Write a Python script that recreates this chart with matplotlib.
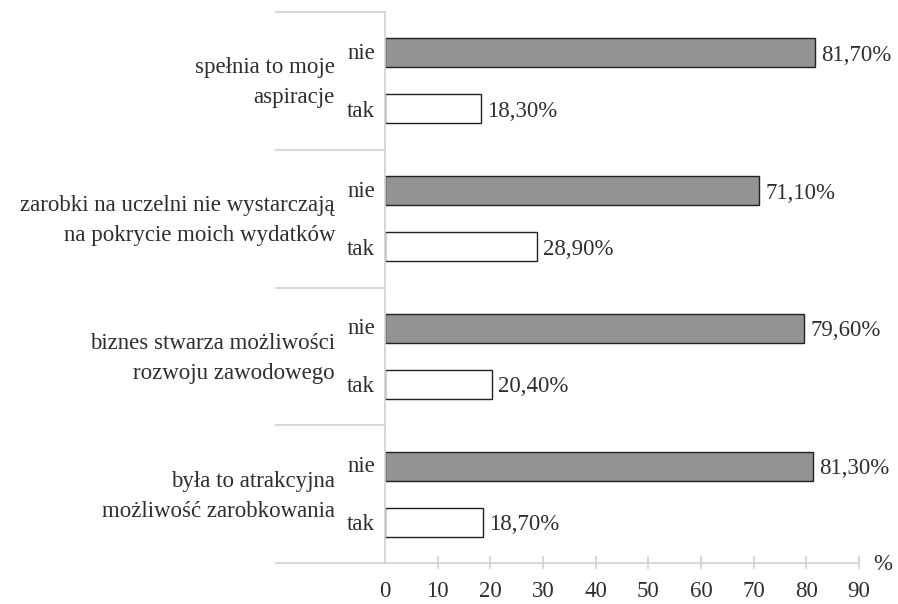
import numpy as np
import matplotlib.pyplot as plt

plt.rcParams['font.family'] = ['Liberation Serif', 'DejaVu Serif']

# groups from top to bottom
groups = ["spełnia to moje\naspiracje",
          "zarobki na uczelni nie wystarczają\nna pokrycie moich wydatków",
          "biznes stwarza możliwości\nrozwoju zawodowego",
          "była to atrakcyjna\nmożliwość zarobkowania"]
nie = [81.7, 71.1, 79.6, 81.3]
tak = [18.3, 28.9, 20.4, 18.7]
xticks = [0, 10, 20, 30, 40, 50, 60, 70, 80, 90]

W, H = 898, 604
fig = plt.figure(figsize=(W / 100, H / 100), dpi=100)
ax = fig.add_axes([385 / W, 1 - 563 / H, (859 - 385) / W, (563 - 12) / H])
ax.set_xlim(0, 90)
ax.set_ylim(0, 4)
ax.axis('off')

txt = '#2e2e2e'
grid = '#d4d4d4'
fs = 16.5
px = 90 / (859 - 385)  # data units per pixel
py = 4 / (563 - 12)
left = -(385 - 276) * px

n = len(groups)
for i, (g, a, b) in enumerate(zip(groups, nie, tak)):
    base = n - 1 - i
    y_nie = base + 0.5 + 0.203
    y_tak = base + 0.5 - 0.203
    ax.barh(y_nie, a, height=0.21, color='#939393', edgecolor='#222222', lw=1)
    ax.barh(y_tak, b, height=0.21, color='white', edgecolor='#222222', lw=1)
    ax.text(a + 6 * px, y_nie, f"{a:.2f}%".replace('.', ','), va='center_baseline', ha='left',
            fontsize=fs, color=txt)
    ax.text(b + 6 * px, y_tak, f"{b:.2f}%".replace('.', ','), va='center_baseline', ha='left',
            fontsize=fs, color=txt)
    ax.text(-10 * px, y_nie + 2 * py, "nie", va='center_baseline', ha='right', fontsize=fs, color=txt)
    ax.text(-10 * px, y_tak, "tak", va='center_baseline', ha='right', fontsize=fs, color=txt)
    ax.text(-50 * px, base + 0.5 - 2 * py, g, va='center', ha='right', fontsize=fs, color=txt,
            linespacing=1.55)

# separators and axes
for yy in range(1, n + 1):
    ax.plot([left, 0], [yy, yy], color=grid, lw=1.3, clip_on=False)
ax.plot([left, 90], [0, 0], color=grid, lw=1.3, clip_on=False)
ax.plot([0, 0], [0, 4], color=grid, lw=1.3, clip_on=False)
for t in xticks[1:]:
    ax.plot([t, t], [-5 * py, 6 * py], color=grid, lw=1.3, clip_on=False)
for t in xticks:
    ax.text(t, -26 * py, str(t), ha='center', va='center_baseline', fontsize=fs, color=txt)
ax.text(90 + 14 * px, 1 * py, "%", ha='left', va='center_baseline', fontsize=fs, color=txt)

fig.savefig('out.png', dpi=100)
